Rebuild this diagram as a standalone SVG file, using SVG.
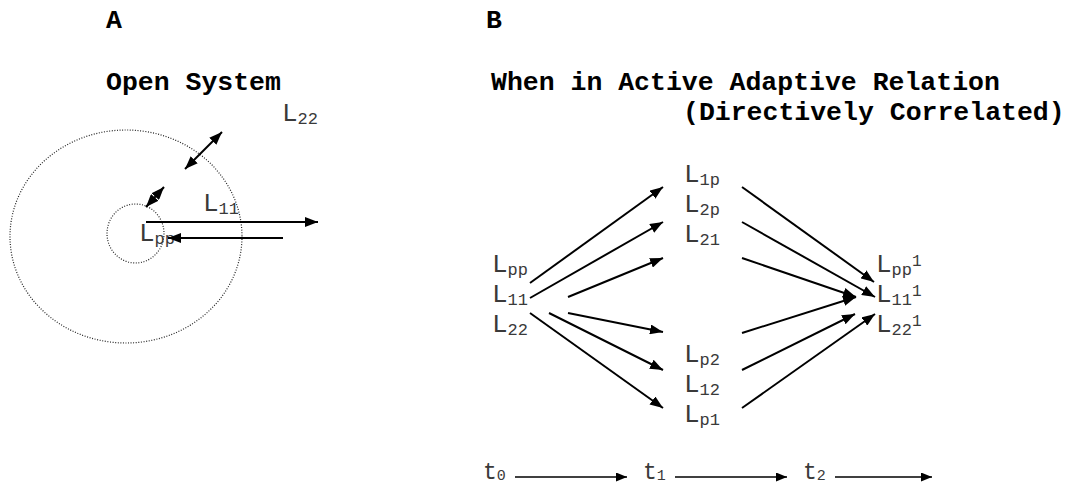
<svg xmlns="http://www.w3.org/2000/svg" width="1067" height="486" viewBox="0 0 1067 486">
  <style>
    .title { font-family: 'Courier New', 'Liberation Mono', monospace; font-weight: bold; font-size: 26.5px; fill: #000; }
    .lbl { font-family: 'Courier New', 'Liberation Mono', monospace; font-size: 26px; fill: #3a3a3a; }
    .tl { font-family: 'Courier New', 'Liberation Mono', monospace; font-size: 23px; fill: #3a3a3a; }
    .sub { font-size: 17px; }
    .tsub { font-size: 15px; }
    .sup { font-size: 16px; }
    .ring { fill: none; stroke: #222; stroke-width: 1.2; stroke-dasharray: 1 1.6; }
    .arr { stroke: #000; stroke-width: 2; fill: none; marker-end: url(#head); }
    .dbl { stroke: #000; stroke-width: 2; fill: none; marker-start: url(#head); marker-end: url(#head); }
    .time { stroke: #000; stroke-width: 1.6; fill: none; marker-end: url(#thead); }
  </style>
  <defs>
    <marker id="head" markerUnits="userSpaceOnUse" markerWidth="13" markerHeight="10" refX="13" refY="5" orient="auto-start-reverse">
      <path d="M0,0 L13,5 L0,10 z" fill="#000"/>
    </marker>
    <marker id="thead" markerUnits="userSpaceOnUse" markerWidth="11" markerHeight="9" refX="11" refY="4.5" orient="auto">
      <path d="M0,0 L11,4.5 L0,9 z" fill="#000"/>
    </marker>
  </defs>
  <rect width="1067" height="486" fill="#fff"/>

  <!-- panel A: open system -->
  <g id="panel-a">
    <text class="title" x="106" y="28">A</text>
    <text class="title" x="106" y="90">Open System</text>
    <ellipse id="outer-ring" class="ring" cx="126" cy="236.5" rx="116" ry="106.5"/>
    <ellipse id="inner-ring" class="ring" cx="135.5" cy="233.5" rx="28.5" ry="29.5"/>
    <g id="a-L22"><text class="lbl" x="282" y="121">L<tspan class="sub" dy="3">22</tspan></text></g>
    <g id="a-L11"><text class="lbl" x="203" y="211">L<tspan class="sub" dy="3">11</tspan></text></g>
    <g id="a-Lpp"><text class="lbl" x="139" y="241">L<tspan class="sub" dy="3">pp</tspan></text></g>
  </g>

  <!-- panel B: active adaptive relation -->
  <g id="panel-b">
    <text class="title" x="486" y="28">B</text>
    <text class="title" x="491" y="90">When in Active Adaptive Relation</text>
    <text class="title" x="683" y="120">(Directively Correlated)</text>
  </g>

  <!-- t0 column -->
  <g id="b-Lpp"><text class="lbl" x="492" y="272">L<tspan class="sub" dy="3">pp</tspan></text></g>
  <g id="b-L11"><text class="lbl" x="492" y="302">L<tspan class="sub" dy="3">11</tspan></text></g>
  <g id="b-L22"><text class="lbl" x="492" y="332">L<tspan class="sub" dy="3">22</tspan></text></g>

  <!-- t1 column -->
  <g id="b-L1p"><text class="lbl" x="684" y="182">L<tspan class="sub" dy="3">1p</tspan></text></g>
  <g id="b-L2p"><text class="lbl" x="684" y="212">L<tspan class="sub" dy="3">2p</tspan></text></g>
  <g id="b-L21"><text class="lbl" x="684" y="242">L<tspan class="sub" dy="3">21</tspan></text></g>
  <g id="b-Lp2"><text class="lbl" x="684" y="362">L<tspan class="sub" dy="3">p2</tspan></text></g>
  <g id="b-L12"><text class="lbl" x="684" y="392">L<tspan class="sub" dy="3">12</tspan></text></g>
  <g id="b-Lp1"><text class="lbl" x="684" y="422">L<tspan class="sub" dy="3">p1</tspan></text></g>

  <!-- t2 column -->
  <g id="b-Lpp1"><text class="lbl" x="876" y="272">L<tspan class="sub" dy="3">pp</tspan><tspan class="sup" dy="-9">1</tspan></text></g>
  <g id="b-L111"><text class="lbl" x="876" y="302">L<tspan class="sub" dy="3">11</tspan><tspan class="sup" dy="-9">1</tspan></text></g>
  <g id="b-L221"><text class="lbl" x="876" y="332">L<tspan class="sub" dy="3">22</tspan><tspan class="sup" dy="-9">1</tspan></text></g>

  <!-- time axis labels -->
  <g id="t0"><text class="tl" x="483" y="479">t<tspan class="tsub" dy="1">0</tspan></text></g>
  <g id="t1"><text class="tl" x="643" y="479">t<tspan class="tsub" dy="1">1</tspan></text></g>
  <g id="t2"><text class="tl" x="803" y="479">t<tspan class="tsub" dy="1">2</tspan></text></g>

  <g id="connectors">
    <!-- panel A exchanges -->
    <line class="dbl" x1="185" y1="169" x2="222" y2="132"/>
    <line class="dbl" x1="146" y1="207" x2="164" y2="187"/>
    <line class="arr" x1="146" y1="222" x2="318" y2="222"/>
    <line class="arr" x1="283" y1="238" x2="168" y2="238"/>

    <!-- fan out t0 -> t1 -->
    <line class="arr" x1="530" y1="283" x2="663" y2="187"/>
    <line class="arr" x1="530" y1="298" x2="663" y2="222"/>
    <line class="arr" x1="568" y1="297" x2="663" y2="258"/>
    <line class="arr" x1="568" y1="313" x2="663" y2="332"/>
    <line class="arr" x1="549" y1="313" x2="663" y2="370"/>
    <line class="arr" x1="530" y1="313" x2="663" y2="408"/>

    <!-- fan in t1 -> t2 -->
    <line class="arr" x1="742" y1="187" x2="874" y2="282"/>
    <line class="arr" x1="742" y1="222" x2="875" y2="297"/>
    <line class="arr" x1="742" y1="258" x2="856" y2="297"/>
    <line class="arr" x1="742" y1="333" x2="856" y2="297"/>
    <line class="arr" x1="742" y1="370" x2="855" y2="314"/>
    <line class="arr" x1="742" y1="408" x2="875" y2="314"/>

    <!-- time axis -->
    <line class="time" x1="515" y1="477" x2="627" y2="477"/>
    <line class="time" x1="675" y1="477" x2="787" y2="477"/>
    <line class="time" x1="835" y1="477" x2="932" y2="477"/>
  </g>
</svg>
